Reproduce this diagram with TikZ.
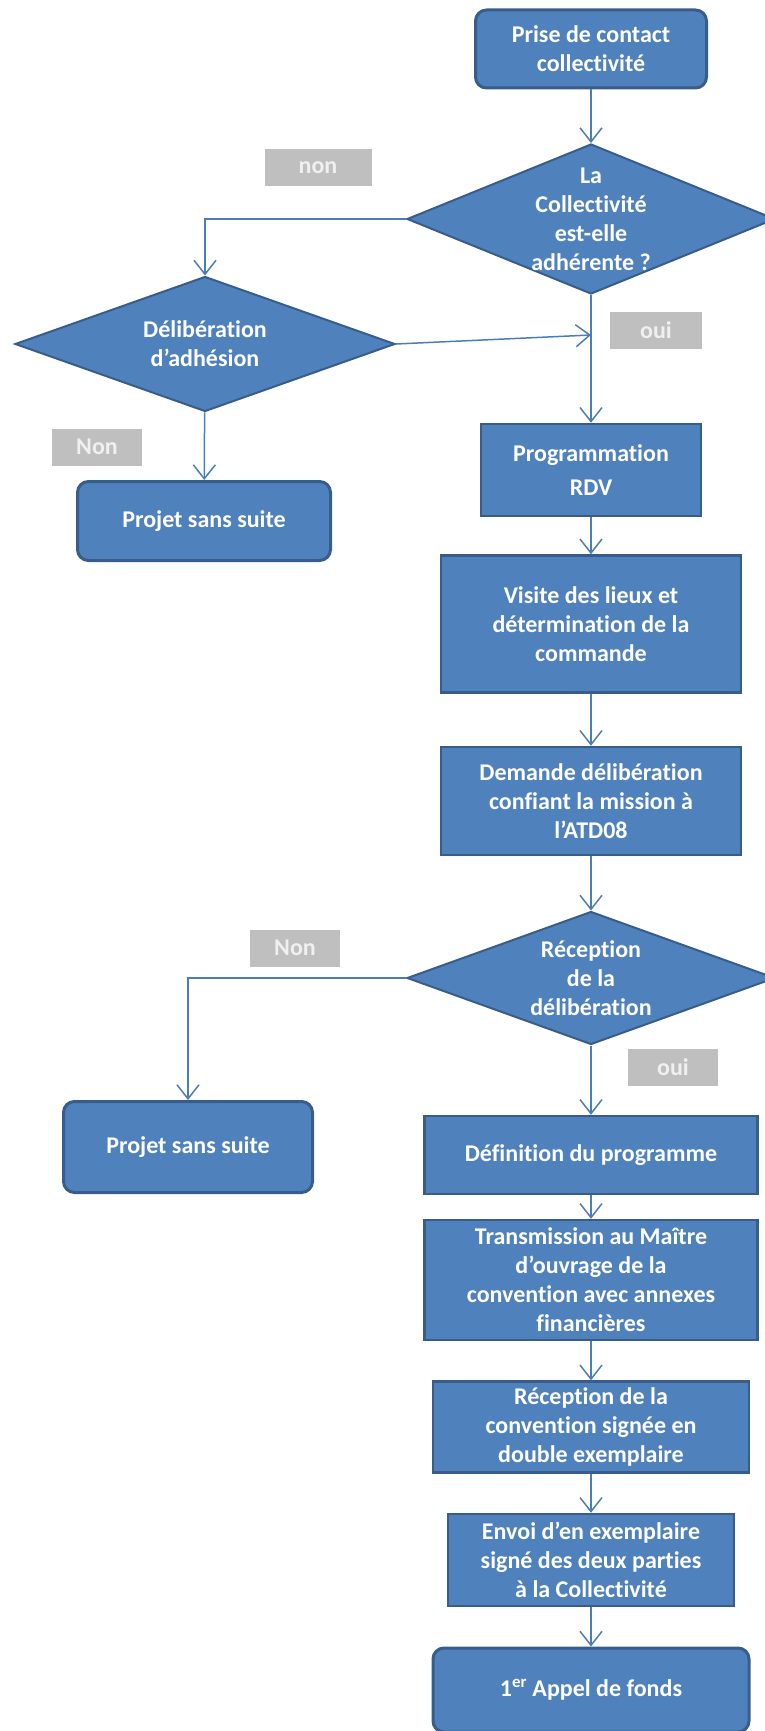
\documentclass[tikz,border=0pt]{standalone}
\usepackage{fontspec}
\setmainfont{Carlito}[Ligatures={NoCommon}]
\usetikzlibrary{shapes.geometric,arrows.meta}
\definecolor{boxblue}{HTML}{4F81BD}
\definecolor{boxedge}{HTML}{385D8A}
\definecolor{linkblue}{HTML}{4A7EBB}
\definecolor{tagfill}{HTML}{BFBFBF}

\begin{document}
\begin{tikzpicture}[x=1pt,y=-1pt,
        >={Straight Barb[length=14pt,width=22pt]},
        every node/.style={font=\fontsize{24}{29}\selectfont\bfseries, text=white, align=center},
        etape/.style={rectangle, draw=boxedge, line width=2.5pt, fill=boxblue, inner sep=0pt},
        fin/.style={etape, line width=3pt, rounded corners=11pt},
        choix/.style={diamond, draw=boxedge, line width=2pt, fill=boxblue, inner sep=0pt},
        tag/.style={fill=tagfill, text=white!94!black, minimum width=92pt, minimum height=37pt, inner sep=0pt},
        lien/.style={->, draw=linkblue, line width=1.5pt}]
            \useasboundingbox (0,0) rectangle (765,1731);
            \node[fin, minimum width=231pt, minimum height=78pt] at (591,49) (contact) {Prise de contact\\collectivité};
            \node[choix, minimum width=368pt, minimum height=150pt] at (591,219) (adh) {};
            \node at (adh) (adht) {La\\Collectivité\\est-elle\\adhérente ?};
            \node[tag, minimum width=107pt] at (318,168) (non1) {non};
            \node[choix, minimum width=380pt, minimum height=135pt] at (205,344) (delib) {};
            \node at (delib) (delibt) {Délibération\\d’adhésion};
            \coordinate (jonc) at (591,335);
            \node[tag] at (656,330) (oui1) {oui};
            \node[tag, minimum width=90pt] at (97,447) (non2) {Non};
            \node[fin, minimum width=253pt, minimum height=79pt] at (204,521) (sans1) {Projet sans suite};
            \node[etape, minimum width=220pt, minimum height=92pt] at (591,470) (rdv) {Programmation\\[5pt]RDV};
            \node[etape, minimum width=300pt, minimum height=137pt] at (591,624) (visite) {Visite des lieux et\\détermination de la\\commande};
            \node[etape, minimum width=300pt, minimum height=108pt] at (591,801) (demande) {Demande délibération\\confiant la mission à\\l’ATD08};
            \node[choix, minimum width=368pt, minimum height=133pt] at (591,978) (recep) {};
            \node at (recep) (recept) {Réception\\de la\\délibération};
            \node[tag, minimum width=90pt] at (295,948) (non3) {Non};
            \node[fin, minimum width=249pt, minimum height=91pt] at (188,1147) (sans2) {Projet sans suite};
            \node[tag, minimum width=90pt] at (673,1067) (oui2) {oui};
            \node[etape, minimum width=333pt, minimum height=78pt] at (591,1155) (defin) {Définition du programme};
            \node[etape, minimum width=333pt, minimum height=120pt] at (591,1280) (transm) {Transmission au Maître\\d’ouvrage de la\\convention avec annexes\\financières};
            \node[etape, minimum width=316pt, minimum height=91pt] at (591,1427) (signee) {Réception de la\\convention signée en\\double exemplaire};
            \node[etape, minimum width=286pt, minimum height=92pt] at (591,1560) (envoi) {Envoi d’en exemplaire\\signé des deux parties\\à la Collectivité};
            \node[fin, minimum width=316pt, minimum height=84pt] at (591,1690) (appel) {1\textsuperscript{er} Appel de fonds};
            \draw[lien] (contact) to (adh);
            \draw[lien] (adh.west) -| (delib.north);
            \draw[lien] (delib.east) to (jonc);
            \draw[lien] (adh) to (rdv);
            \draw[lien] (delib) to (sans1);
            \draw[lien] (rdv) to (visite);
            \draw[lien] (visite) to (demande);
            \draw[lien] (demande) to (recep);
            \draw[lien] (recep.west) -| (sans2.north);
            \draw[lien] (recep) to (defin);
            \draw[lien] (defin) to (transm);
            \draw[lien] (transm) to (signee);
            \draw[lien] (signee) to (envoi);
            \draw[lien] (envoi) to (appel);
        \end{tikzpicture}
\end{document}
